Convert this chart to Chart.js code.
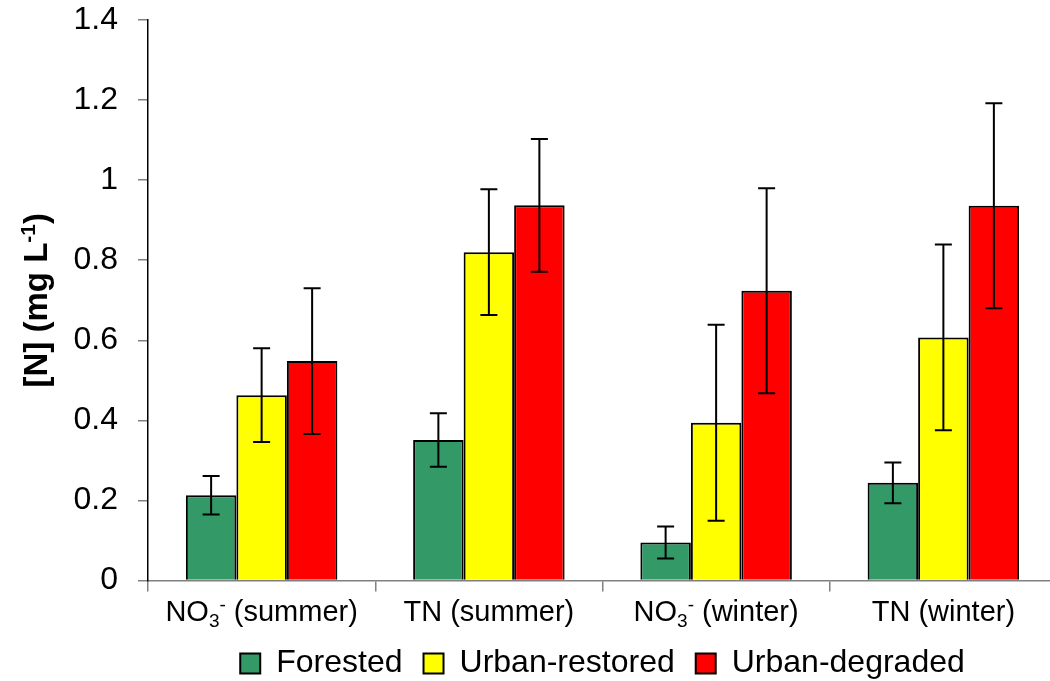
<!DOCTYPE html>
<html>
<head>
<meta charset="utf-8">
<script src="https://cdn.jsdelivr.net/npm/chart.js@4.4.1/dist/chart.umd.min.js"></script>
<style>
  html, body { margin: 0; padding: 0; overflow: hidden; background: #fff; width: 1050px; height: 681px; }
  canvas { display: block; }
</style>
</head>
<body>
<canvas id="c" width="1060" height="700"></canvas>
<script>
// Mean nitrogen concentrations (mg L-1) with error bars, by stream type
const categories = ['NO₃⁻ (summer)', 'TN (summer)', 'NO₃⁻ (winter)', 'TN (winter)'];
const seriesNames = ['Forested', 'Urban-restored', 'Urban-degraded'];

const forested    = [0.213, 0.351, 0.095, 0.244];
const forestedErr = [0.048, 0.067, 0.040, 0.051];
const restored    = [0.463, 0.820, 0.394, 0.607];
const restoredErr = [0.117, 0.157, 0.245, 0.232];
const degraded    = [0.548, 0.937, 0.724, 0.936];
const degradedErr = [0.182, 0.166, 0.256, 0.256];

const yTicks = [0, 0.2, 0.4, 0.6, 0.8, 1, 1.2, 1.4];
const yTickLabels = ['0', '0.2', '0.4', '0.6', '0.8', '1', '1.2', '1.4'];
const yTitle = '[N] (mg L⁻¹)';

const colors = ['#339966', '#FFFF00', '#FF0000'];
const FAMILY = '"Liberation Sans", Arial, sans-serif';

// Text with subscript / superscript characters drawn as lowered / raised small runs
const SUB = { '₀': '0', '₁': '1', '₂': '2', '₃': '3', '₄': '4' };
const SUP = { '⁻': '-', '¹': '1', '²': '2', '³': '3', '⁺': '+' };

function drawRich(ctx, text, x, y, size, weight) {
  const parts = [];
  for (const ch of text) {
    const kind = SUB[ch] ? 'sub' : (SUP[ch] ? 'sup' : 'n');
    const c = SUB[ch] || SUP[ch] || ch;
    const last = parts[parts.length - 1];
    if (last && last.kind === kind) last.t += c; else parts.push({ t: c, kind });
  }
  const fontFor = k => `${weight} ${k === 'n' ? size : Math.round(size * 0.65)}px ${FAMILY}`;
  let total = 0;
  parts.forEach(p => { ctx.font = fontFor(p.kind); p.w = ctx.measureText(p.t).width; total += p.w; });
  let cx = x - total / 2;
  ctx.textAlign = 'left';
  ctx.textBaseline = 'alphabetic';
  parts.forEach(p => {
    ctx.font = fontFor(p.kind);
    const dy = p.kind === 'sub' ? size * 0.22 : (p.kind === 'sup' ? -size * 0.36 : 0);
    ctx.fillText(p.t, cx, y + dy);
    cx += p.w;
  });
}

// Whiskers: mean ± error, centred on each bar
const errorBars = {
  id: 'errorBars',
  afterDatasetsDraw(chart) {
    const { ctx, scales: { y } } = chart;
    ctx.save();
    ctx.strokeStyle = '#000';
    ctx.lineWidth = 2;
    chart.data.datasets.forEach((ds, di) => {
      const meta = chart.getDatasetMeta(di);
      meta.data.forEach((bar, i) => {
        const v = ds.data[i], e = ds.errors[i];
        const top = y.getPixelForValue(v + e);
        const bot = y.getPixelForValue(v - e);
        const x = bar.x, half = 8.5;
        ctx.beginPath();
        ctx.moveTo(x, top); ctx.lineTo(x, bot);
        ctx.moveTo(x - half, top); ctx.lineTo(x + half, top);
        ctx.moveTo(x - half, bot); ctx.lineTo(x + half, bot);
        ctx.stroke();
      });
    });
    ctx.restore();
  }
};

// Category labels and the rotated y-axis title (both need sub/superscripts)
const richLabels = {
  id: 'richLabels',
  afterDraw(chart) {
    const { ctx, scales: { x }, chartArea } = chart;
    ctx.save();
    ctx.fillStyle = '#000';
    chart.data.labels.forEach((lab, i) => {
      drawRich(ctx, lab, x.getPixelForValue(i), chartArea.bottom + 40.5, 29, 'normal');
    });
    ctx.translate(47, (chartArea.top + chartArea.bottom) / 2);
    ctx.rotate(-Math.PI / 2);
    drawRich(ctx, yTitle, 0, 0, 33, 'bold');
    ctx.restore();
  }
};

const values = [forested, restored, degraded];
const errors = [forestedErr, restoredErr, degradedErr];

new Chart(document.getElementById('c'), {
  type: 'bar',
  data: {
    labels: categories,
    datasets: seriesNames.map((name, k) => ({
      label: name,
      data: values[k],
      errors: errors[k],
      backgroundColor: colors[k],
      borderColor: '#000',
      borderWidth: 2
    }))
  },
  options: {
    responsive: false,
    animation: false,
    layout: { padding: { left: 0, right: 3, top: 20, bottom: 10.5 } },
    datasets: { bar: { categoryPercentage: 0.6667, barPercentage: 1 } },
    plugins: {
      legend: {
        position: 'bottom',
        fullSize: false,
        labels: {
          font: { family: FAMILY, size: 32 },
          color: '#000',
          boxWidth: 20,
          boxHeight: 20,
          padding: 21
        }
      },
      tooltip: { enabled: false }
    },
    scales: {
      x: {
        grid: { drawOnChartArea: false, offset: true, tickLength: 11, color: '#808080', lineWidth: 1.5 },
        border: { color: '#808080', width: 1.5 },
        ticks: { display: false },
        afterFit: s => { s.height = 46; }
      },
      y: {
        min: 0,
        max: 1.4,
        afterBuildTicks: s => { s.ticks = yTicks.map(v => ({ value: v })); },
        ticks: {
          callback: (v, i) => yTickLabels[i],
          font: { family: FAMILY, size: 32 },
          color: '#000',
          padding: 20
        },
        grid: { drawOnChartArea: false, tickLength: 10, color: '#808080', lineWidth: 1.5 },
        border: { color: '#000', width: 1.5 },
        afterFit: s => { s.width = 148; s.paddingTop = 0; s.paddingBottom = 0; }
      }
    }
  },
  plugins: [errorBars, richLabels]
});
</script>
</body>
</html>
